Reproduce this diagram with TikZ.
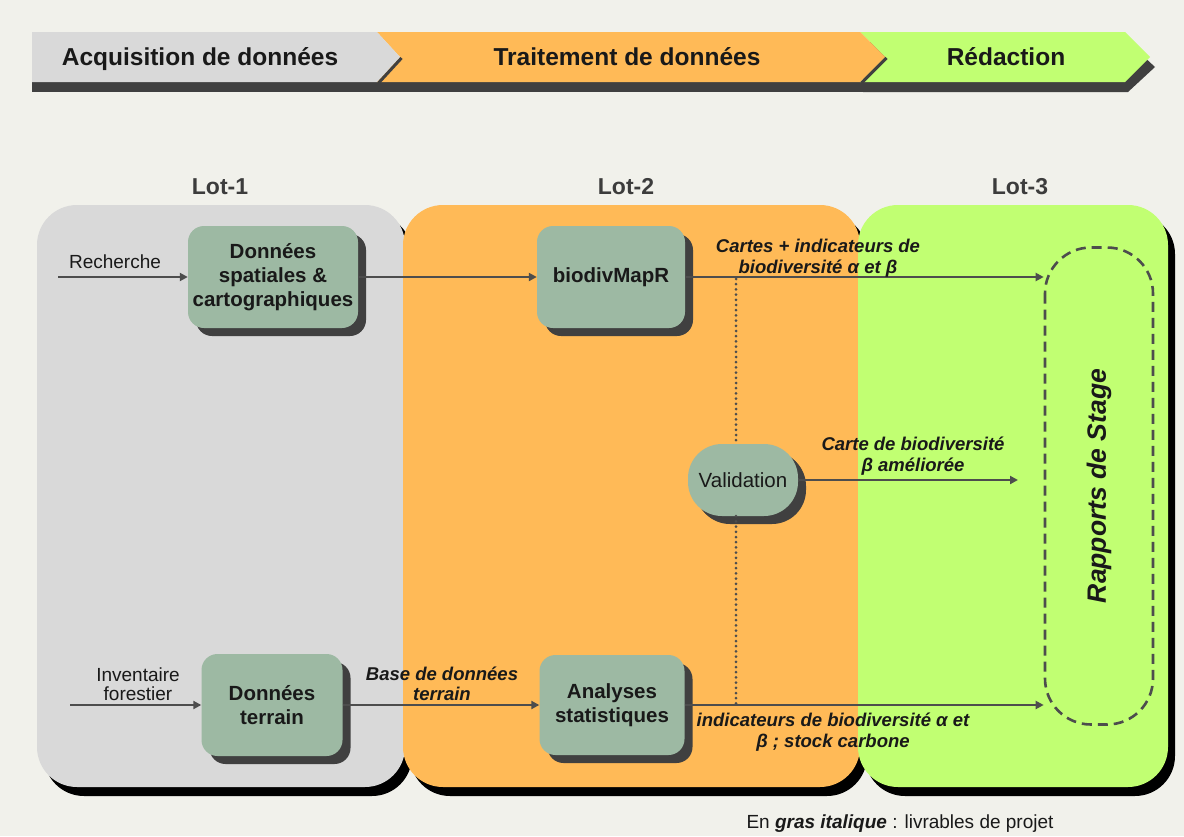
\documentclass[tikz,border=0pt]{standalone}
\usepackage{fontspec}
\setmainfont{Liberation Sans}
\usetikzlibrary{arrows.meta,shadows}
\definecolor{bg}{RGB}{241,241,235}
\definecolor{phgray}{RGB}{217,217,217}
\definecolor{phorange}{RGB}{255,186,87}
\definecolor{phgreen}{RGB}{193,255,114}
\definecolor{sage}{RGB}{157,185,163}
\definecolor{darkshadow}{RGB}{64,64,64}
\definecolor{lnk}{RGB}{77,77,77}
\definecolor{lotc}{RGB}{60,60,60}
\definecolor{txt}{RGB}{25,25,25}
\tikzset{
  bannertext/.style={font=\bfseries\fontsize{24.5}{26}\selectfont, text=txt, inner sep=0pt, anchor=base},
  lottext/.style={font=\bfseries\fontsize{23}{25}\selectfont, text=lotc, inner sep=0pt},
  box/.style={rectangle, rounded corners=16pt, fill=sage, text=txt, align=center, inner sep=0pt,
    font=\bfseries\fontsize{20.5}{24}\selectfont,
    drop shadow={shadow xshift=8pt, shadow yshift=-8pt, fill=darkshadow, opacity=1}},
  conn/.style={draw=lnk, line width=2.2pt, -{Triangle[length=8pt,width=8pt]}},
  dotline/.style={draw=lnk, line width=3pt, line cap=round, dash pattern=on 0pt off 5.2pt},
  lbl/.style={font=\bfseries\itshape\fontsize{18.5}{20.5}\selectfont, text=txt, align=center, inner sep=0pt},
  plain/.style={font=\fontsize{19}{19.5}\selectfont, text=txt, align=center, inner sep=0pt},
  chevedge/.style={draw=darkshadow, line width=3pt}
}
\begin{document}
\begin{tikzpicture}[x=1pt,y=-1pt]
\fill[bg] (0,0) rectangle (1184,836);
\useasboundingbox (0,0) rectangle (1184,836);

% banner shadow
\fill[darkshadow] (863,42) -- (1128,42) -- (1155,67) -- (1128,92) -- (863,92) -- cycle;
\fill[darkshadow] (32,82) rectangle (1128,92);
% banner segments (right to left)
\fill[phgreen] (860,32) -- (1125,32) -- (1150,57) -- (1125,82) -- (860,82) -- (885,57) -- cycle;
\fill[phorange] (377,32) -- (860,32) -- (885,57) -- (860,82) -- (377,82) -- (400,57) -- cycle;
\fill[phgray] (32,32) -- (377,32) -- (400,57) -- (377,82) -- (32,82) -- cycle;
\draw[chevedge] (401.5,58) -- (378.5,83);
\draw[chevedge] (886.5,58) -- (861.5,83);
\node[bannertext] (b1) at (200,65) {Acquisition de données};
\node[bannertext] (b2) at (627,65) {Traitement de données};
\node[bannertext] (b3) at (1006,65) {Rédaction};

% lot labels
\node[lottext] (l1) at (220,187) {Lot-1};
\node[lottext] (l2) at (626,187) {Lot-2};
\node[lottext] (l3) at (1020,187) {Lot-3};

% panels
\fill[black, rounded corners=40pt] (44,214) rectangle (412,796);
\fill[phgray, rounded corners=40pt] (37,205) rectangle (405,787);
\fill[black, rounded corners=40pt] (410,214) rectangle (867,796);
\fill[phorange, rounded corners=40pt] (403,205) rectangle (860,787);
\fill[black, rounded corners=40pt] (865,214) rectangle (1175,796);
\fill[phgreen, rounded corners=40pt] (858,205) rectangle (1168,787);

% nodes
\node[box, minimum width=170pt, minimum height=102pt] (dsp) at (273,277) {Données\\spatiales \&\\cartographiques};
\node[box, minimum width=148pt, minimum height=102pt] (bio) at (611,277) {biodivMapR};
\node[box, minimum width=141pt, minimum height=102pt] (dt) at (272,705) {Données\\terrain};
\node[box, minimum width=145pt, minimum height=100pt] (ana) at (612,705) {Analyses\\statistiques};
\node[box, rounded corners=34pt, minimum width=110pt, minimum height=72pt,
  font=\fontsize{20.5}{22}\selectfont,
  drop shadow={shadow xshift=7pt, shadow yshift=-7pt, fill=darkshadow, opacity=1}] (val) at (743,480) {Validation};
\node[draw=lnk, line width=2.6pt, dash pattern=on 10pt off 6pt, rounded corners=46pt,
  minimum width=477pt, minimum height=108pt, rotate=90, inner sep=0pt,
  font=\bfseries\itshape\fontsize{26.5}{28}\selectfont, text=txt] (rap) at (1099,486) {Rapports de Stage};

% connectors
\coordinate (r0) at (58,277);
\draw[conn] (r0) -- (r0 -| dsp.west);
\node[plain] (rl) at (115,262) {Recherche};
\draw[conn] (dsp.east) -- (bio.west);
\draw[conn] (bio.east) -- (bio.east -| rap.north);
\node[lbl] (bl) at (818,258) {Cartes + indicateurs de\\biodiversité α et β};

\coordinate (d1) at (736,279);
\coordinate (d2) at (736,705);
\draw[dotline] (d1) -- (d1 |- val.north);
\draw[dotline] (d2 |- val.south) -- (d2);

\coordinate (vend) at (1018,480);
\draw[conn] (val.east) -- (vend);
\node[lbl] (vl) at (913,456) {Carte de biodiversité\\β améliorée};

\coordinate (i0) at (70,705);
\draw[conn] (i0) -- (i0 -| dt.west);
\node[plain] (il) at (138,684) {Inventaire\\forestier};
\draw[conn] (dt.east) -- (ana.west);
\node[lbl] (dl) at (442,684) {Base de données\\terrain};
\draw[conn] (ana.east) -- (ana.east -| rap.north);
\node[lbl] (al) at (833,732) {indicateurs de biodiversité α et\\β ; stock carbone};

\node[plain] (foot) at (900,824) {En \textbf{\textit{gras italique}} : livrables de projet};
\end{tikzpicture}
\end{document}
